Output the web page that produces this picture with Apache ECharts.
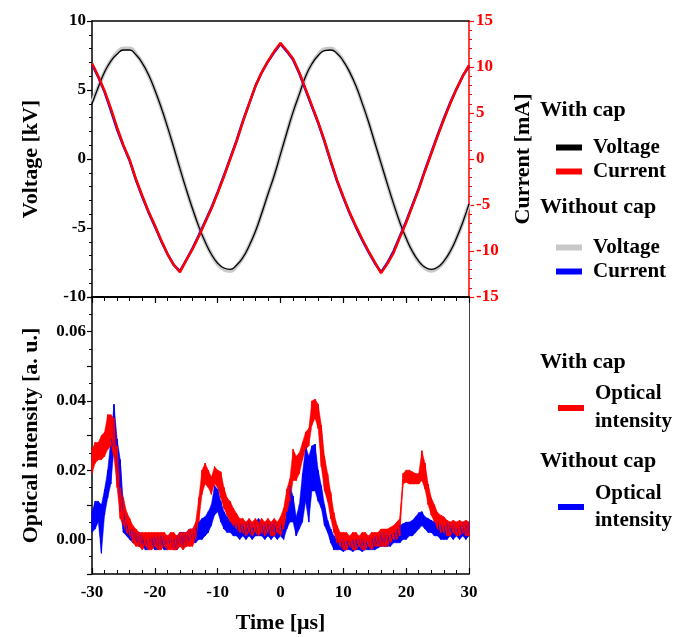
<!DOCTYPE html>
<html>
<head>
<meta charset="utf-8">
<script src="https://cdn.jsdelivr.net/npm/echarts@6/dist/echarts.min.js"></script>
<style>
  html, body { margin: 0; padding: 0; background: #fff; }
  #main { width: 675px; height: 637px; }
</style>
</head>
<body>
<div id="main"></div>
<script>
// time axis of the waveforms (us), one sample per microsecond
var timeWave = [];
for (var t = -30; t <= 30; t++) timeWave.push(t);

// voltage [kV]
var voltageCap = [
  4.0, 5.2, 6.3, 7.1, 7.6, 7.9, 7.9, 7.55, 6.95, 6.1,
  5.0, 3.75, 2.35, 0.85, -0.7, -2.2, -3.6, -4.9, -6.0, -6.9,
  -7.55, -7.9, -8.0, -7.7, -7.15, -6.3, -5.25, -3.95, -2.55, -1.2,
  0.35, 1.9, 3.4, 4.7, 6.0, 6.9, 7.5, 7.85, 7.9, 7.65,
  7.1, 6.3, 5.3, 4.05, 2.7, 1.2, -0.3, -1.8, -3.25, -4.6,
  -5.75, -6.7, -7.4, -7.85, -8.0, -7.85, -7.4, -6.7, -5.75, -4.6,
  -3.25
];
var voltageNoCap = [
  4.1, 5.2, 6.3, 7.1, 7.7, 8.0, 8.0, 7.6, 6.95, 6.1,
  5.0, 3.75, 2.35, 0.85, -0.7, -2.2, -3.6, -4.9, -6.0, -6.9,
  -7.6, -8.0, -8.1, -7.75, -7.15, -6.3, -5.25, -3.95, -2.55, -1.2,
  0.35, 1.9, 3.4, 4.7, 6.0, 6.9, 7.55, 7.95, 8.0, 7.7,
  7.1, 6.3, 5.3, 4.05, 2.7, 1.2, -0.3, -1.8, -3.25, -4.6,
  -5.75, -6.7, -7.45, -7.9, -8.1, -7.9, -7.45, -6.7, -5.75, -4.6,
  -3.3
];

// current [mA]
var currentCap = [
  10.4, 9.0, 7.4, 5.5, 3.4, 1.5, -0.1, -2.2, -4.0, -5.7,
  -7.2, -8.8, -10.3, -11.5, -12.3, -11.0, -9.8, -8.4, -6.9, -5.4,
  -3.7, -1.9, 0.0, 1.9, 4.0, 6.0, 7.9, 9.4, 10.6, 11.7,
  12.6, 11.8, 10.9, 9.4, 7.6, 5.8, 4.0, 2.0, -0.2, -2.3,
  -4.1, -5.8, -7.3, -8.7, -10.0, -11.2, -12.4, -11.4, -10.2, -8.5,
  -6.9, -5.1, -3.3, -1.3, 0.6, 2.5, 4.3, 6.0, 7.6, 9.0,
  10.2
];
var currentNoCap = [
  10.3, 8.9, 7.3, 5.3, 3.2, 1.4, -0.2, -2.3, -4.1, -5.8,
  -7.3, -8.9, -10.3, -11.5, -12.2, -11.0, -9.7, -8.3, -6.8, -5.3,
  -3.6, -1.8, 0.1, 2.0, 4.1, 6.0, 7.9, 9.4, 10.6, 11.6,
  12.5, 11.7, 10.8, 9.3, 7.5, 5.7, 3.9, 1.9, -0.3, -2.4,
  -4.2, -5.9, -7.4, -8.8, -10.1, -11.3, -12.3, -11.3, -10.0, -8.4,
  -6.8, -5.0, -3.2, -1.2, 0.7, 2.6, 4.4, 6.1, 7.6, 9.0,
  10.1
];

// optical intensity: time axis (us), 0.5 us steps
var timeOpt = [];
for (var k = 0; k <= 120; k++) timeOpt.push(-30 + k * 0.5);

// lower / upper edge of the noisy trace [a. u.]
var opticalCapLo = [
  0.019, 0.022, 0.023, 0.023, 0.024, 0.026, 0.027, 0.024, 0.015, 0.006,
  0.004, 0.002, 0.001, -0.001, -0.002, -0.002, -0.003, -0.002, -0.003, -0.003,
  -0.002, -0.003, -0.003, -0.002, -0.003, -0.003, -0.003, -0.003, -0.002, -0.003,
  -0.002, -0.002, -0.002, 0.000, 0.005, 0.013, 0.016, 0.015, 0.013, 0.016,
  0.015, 0.012, 0.009, 0.007, 0.005, 0.004, 0.003, 0.002, 0.002, 0.001,
  0.002, 0.001, 0.002, 0.001, 0.002, 0.001, 0.002, 0.001, 0.001, 0.002,
  0.001, 0.003, 0.008, 0.011, 0.017, 0.017, 0.019, 0.023, 0.026, 0.027,
  0.033, 0.035, 0.032, 0.021, 0.014, 0.011, 0.006, 0.002, -0.001, -0.002,
  -0.003, -0.003, -0.002, -0.003, -0.003, -0.002, -0.003, -0.003, -0.002, -0.003,
  -0.002, -0.002, -0.002, -0.002, -0.002, -0.001, 0.000, 0.000, 0.001, 0.016,
  0.0165, 0.016, 0.016, 0.016, 0.016, 0.017, 0.0145, 0.010, 0.007, 0.005,
  0.003, 0.002, 0.002, 0.001, 0.001, 0.002, 0.001, 0.001, 0.002, 0.001,
  0.001
];
var opticalCapHi = [
  0.026, 0.028, 0.028, 0.030, 0.031, 0.036, 0.036, 0.035, 0.027, 0.015,
  0.012, 0.008, 0.006, 0.004, 0.003, 0.002, 0.002, 0.002, 0.002, 0.002,
  0.002, 0.002, 0.002, 0.002, 0.001, 0.002, 0.002, 0.001, 0.002, 0.002,
  0.002, 0.003, 0.003, 0.005, 0.012, 0.020, 0.022, 0.020, 0.018, 0.021,
  0.020, 0.0195, 0.015, 0.012, 0.011, 0.009, 0.0075, 0.006, 0.006, 0.005,
  0.006, 0.005, 0.006, 0.005, 0.006, 0.005, 0.006, 0.005, 0.006, 0.005,
  0.0065, 0.009, 0.0145, 0.0175, 0.026, 0.024, 0.025, 0.028, 0.031, 0.032,
  0.040, 0.0405, 0.039, 0.033, 0.024, 0.019, 0.0135, 0.0077, 0.004, 0.002,
  0.002, 0.002, 0.001, 0.002, 0.002, 0.001, 0.002, 0.002, 0.001, 0.002,
  0.002, 0.002, 0.003, 0.003, 0.003, 0.0035, 0.004, 0.005, 0.006, 0.019,
  0.020, 0.020, 0.0195, 0.019, 0.019, 0.0256, 0.022, 0.016, 0.012, 0.010,
  0.0077, 0.007, 0.0065, 0.0055, 0.005, 0.0055, 0.005, 0.0055, 0.005, 0.0055,
  0.005
];
var opticalNoCapLo = [
  0.002, 0.003, 0.005, -0.004, 0.007, 0.012, 0.016, 0.026, 0.017, 0.008,
  0.002, 0.001, 0.000, -0.001, -0.001, -0.002, -0.002, -0.003, -0.003, -0.002,
  -0.003, -0.003, -0.002, -0.003, -0.003, -0.002, -0.003, -0.003, -0.002, -0.002,
  -0.002, -0.001, -0.001, -0.001, 0.000, 0.000, 0.001, 0.002, 0.004, 0.007,
  0.008, 0.005, 0.003, 0.002, 0.002, 0.001, 0.001, 0.000, 0.001, 0.000,
  0.001, 0.000, 0.001, 0.001, 0.001, 0.000, 0.001, 0.000, 0.001, 0.000,
  0.001, 0.000, 0.003, 0.005, 0.005, 0.001, 0.003, 0.005, 0.011, 0.005,
  0.014, 0.014, 0.011, 0.009, 0.004, 0.002, -0.001, -0.003, -0.003, -0.003,
  -0.0035, -0.003, -0.003, -0.0035, -0.003, -0.003, -0.0035, -0.003, -0.003, -0.003,
  -0.003, -0.0025, -0.002, -0.002, -0.002, -0.002, -0.001, -0.001, -0.001, 0.000,
  0.000, 0.001, 0.001, 0.002, 0.003, 0.004, 0.003, 0.002, 0.002, 0.001,
  0.001, 0.000, 0.000, 0.000, 0.001, 0.000, 0.001, 0.000, 0.001, 0.000,
  0.001
];
var opticalNoCapHi = [
  0.008, 0.011, 0.011, 0.010, 0.0145, 0.020, 0.029, 0.039, 0.029, 0.023,
  0.010, 0.005, 0.003, 0.003, 0.002, 0.002, 0.001, 0.001, 0.001, 0.001,
  0.001, 0.001, 0.001, 0.001, 0.001, 0.001, 0.001, 0.001, 0.002, 0.002,
  0.002, 0.003, 0.003, 0.004, 0.005, 0.006, 0.0065, 0.008, 0.010, 0.0155,
  0.0145, 0.011, 0.008, 0.0065, 0.0055, 0.005, 0.005, 0.005, 0.0045, 0.005,
  0.005, 0.0045, 0.005, 0.006, 0.005, 0.005, 0.0045, 0.005, 0.005, 0.0045,
  0.005, 0.004, 0.008, 0.0155, 0.0125, 0.0065, 0.010, 0.019, 0.027, 0.024,
  0.027, 0.0275, 0.020, 0.0155, 0.010, 0.0055, 0.003, 0.001, 0.000, 0.000,
  0.000, 0.000, 0.000, 0.000, 0.000, 0.000, 0.000, 0.000, 0.001, 0.001,
  0.001, 0.001, 0.002, 0.002, 0.002, 0.002, 0.0025, 0.003, 0.004, 0.0045,
  0.005, 0.005, 0.0055, 0.0065, 0.0077, 0.008, 0.0065, 0.006, 0.0055, 0.005,
  0.005, 0.0045, 0.004, 0.005, 0.005, 0.0045, 0.005, 0.0045, 0.005, 0.005,
  0.005
];

var FONT = 'Liberation Serif';

function pairs(xs, ys) {
  var out = [];
  for (var i = 0; i < xs.length; i++) out.push([xs[i], ys[i]]);
  return out;
}
// jagged edge of the noisy trace: lower edge -> upper edge at every sample
function saw(xs, lo, hi) {
  var out = [];
  for (var i = 0; i < xs.length; i++) {
    out.push([xs[i], lo[i]]);
    out.push([xs[i], hi[i]]);
  }
  return out;
}
// ribbon pieces between two neighbouring samples: [t0, lo0, hi0, t1, lo1, hi1]
function ribbon(xs, lo, hi) {
  var out = [];
  for (var i = 0; i < xs.length - 1; i++) {
    out.push([xs[i], lo[i], hi[i], xs[i + 1], lo[i + 1], hi[i + 1]]);
  }
  return out;
}
function opticalSeries(name, color, lo, hi) {
  return [
    {
      name: name + ' ribbon', type: 'custom', xAxisIndex: 2, yAxisIndex: 2,
      data: ribbon(timeOpt, lo, hi), silent: true,
      encode: { x: [0, 3], y: [1, 2, 4, 5] },
      renderItem: function (params, api) {
        var pts = [
          api.coord([api.value(0), api.value(1)]),
          api.coord([api.value(0), api.value(2)]),
          api.coord([api.value(3), api.value(5)]),
          api.coord([api.value(3), api.value(4)])
        ];
        return { type: 'polygon', shape: { points: pts }, style: { fill: color, stroke: color, lineWidth: 0.5 } };
      }
    },
    {
      name: name, type: 'line', xAxisIndex: 2, yAxisIndex: 2,
      data: saw(timeOpt, lo, hi), showSymbol: false, silent: true,
      color: color, lineStyle: { width: 1 }
    }
  ];
}
function legendName(name) {
  return name.replace(/ \(with(out)? cap\)/, '').replace('Optical intensity', 'Optical\nintensity');
}

var tickLabel = { color: '#000', fontFamily: FONT, fontWeight: 'bold', fontSize: 17 };
var axisName = { color: '#000', fontFamily: FONT, fontWeight: 'bold', fontSize: 22 };
function blackLine(w) {
  return { show: true, onZero: false, lineStyle: { color: '#000', width: w } };
}

var series = [
  {
    name: 'Voltage (without cap)', type: 'line', xAxisIndex: 0, yAxisIndex: 0,
    data: pairs(timeWave, voltageNoCap), smooth: true, showSymbol: false, silent: true,
    color: '#c8c8c8', lineStyle: { width: 4 }
  },
  {
    name: 'Voltage (with cap)', type: 'line', xAxisIndex: 0, yAxisIndex: 0,
    data: pairs(timeWave, voltageCap), smooth: true, showSymbol: false, silent: true,
    color: '#000', lineStyle: { width: 1.3 }
  },
  {
    name: 'Current (without cap)', type: 'line', xAxisIndex: 0, yAxisIndex: 1,
    data: pairs(timeWave, currentNoCap), showSymbol: false, silent: true,
    color: '#0000ff', lineStyle: { width: 2.5 }
  },
  {
    name: 'Current (with cap)', type: 'line', xAxisIndex: 0, yAxisIndex: 1,
    data: pairs(timeWave, currentCap), showSymbol: false, silent: true,
    color: '#ff0000', lineStyle: { width: 2.5 }
  }
].concat(
  opticalSeries('Optical intensity (without cap)', '#0000ff', opticalNoCapLo, opticalNoCapHi),
  opticalSeries('Optical intensity (with cap)', '#ff0000', opticalCapLo, opticalCapHi)
);

var myChart = echarts.init(document.getElementById('main'));
myChart.setOption({
  animation: false,
  backgroundColor: '#fff',
  grid: [
    { left: 92, top: 21, width: 377, height: 276, outerBoundsMode: 'none' },
    { left: 92, top: 297, width: 377, height: 277, outerBoundsMode: 'none' }
  ],
  xAxis: [
    {
      gridIndex: 0, type: 'value', min: -30, max: 30, interval: 10, position: 'bottom',
      axisLine: blackLine(2),
      axisTick: { show: true, inside: false, length: 6, lineStyle: { color: '#000', width: 1.2 } },
      minorTick: { show: true, splitNumber: 5, length: 4, lineStyle: { color: '#000', width: 1 } },
      axisLabel: { show: false }, splitLine: { show: false }
    },
    {
      gridIndex: 0, type: 'value', min: -30, max: 30, position: 'top',
      axisLine: blackLine(1.5),
      axisTick: { show: false }, axisLabel: { show: false }, splitLine: { show: false }
    },
    {
      gridIndex: 1, type: 'value', min: -30, max: 30, interval: 10, position: 'bottom',
      axisLine: blackLine(1.5),
      axisTick: { show: true, inside: true, length: 6, lineStyle: { color: '#000', width: 1.2 } },
      minorTick: { show: true, splitNumber: 5, length: 4, lineStyle: { color: '#000', width: 1 } },
      axisLabel: Object.assign({ margin: 10 }, tickLabel),
      splitLine: { show: false },
      name: 'Time [μs]', nameLocation: 'middle', nameGap: 38, nameTextStyle: axisName
    }
  ],
  yAxis: [
    {
      gridIndex: 0, type: 'value', min: -10, max: 10, interval: 5, position: 'left',
      axisLine: blackLine(1.5),
      axisTick: { show: true, inside: false, length: 5, lineStyle: { color: '#000', width: 1.2 } },
      minorTick: { show: true, splitNumber: 5, length: 3, lineStyle: { color: '#000', width: 1 } },
      axisLabel: Object.assign({ margin: 6 }, tickLabel),
      splitLine: { show: false },
      name: 'Voltage [kV]', nameLocation: 'middle', nameGap: 50, nameTextStyle: axisName
    },
    {
      gridIndex: 0, type: 'value', min: -15, max: 15, interval: 5, position: 'right',
      axisLine: { show: true, onZero: false, lineStyle: { color: '#ff0000', width: 1.5 } },
      axisTick: { show: true, inside: false, length: 5, lineStyle: { color: '#ff0000', width: 1.2 } },
      minorTick: { show: true, splitNumber: 5, length: 3, lineStyle: { color: '#ff0000', width: 1 } },
      axisLabel: { margin: 7, color: '#ff0000', fontFamily: FONT, fontWeight: 'bold', fontSize: 17 },
      splitLine: { show: false },
      name: 'Current [mA]', nameLocation: 'middle', nameGap: 43, nameTextStyle: axisName
    },
    {
      gridIndex: 1, type: 'value', min: -0.01, max: 0.07, interval: 0.01, position: 'left',
      axisLine: blackLine(1.5),
      axisTick: { show: true, inside: false, length: 5, lineStyle: { color: '#000', width: 1.2 } },
      minorTick: { show: true, splitNumber: 2, length: 3, lineStyle: { color: '#000', width: 1 } },
      axisLabel: Object.assign({
        margin: 6,
        formatter: function (v) {
          var n = Math.round(v * 100);
          return n % 2 === 0 ? (n / 100).toFixed(2) : '';
        }
      }, tickLabel),
      splitLine: { show: false },
      name: 'Optical intensity [a. u.]', nameLocation: 'middle', nameGap: 50, nameTextStyle: axisName
    },
    {
      gridIndex: 1, type: 'value', min: -0.01, max: 0.07, position: 'right',
      axisLine: { show: true, onZero: false, lineStyle: { color: '#444', width: 1 } },
      axisTick: { show: false }, axisLabel: { show: false }, splitLine: { show: false }
    }
  ],
  legend: [
    {
      data: ['Voltage (with cap)', 'Current (with cap)'],
      left: 551, top: 132, orient: 'vertical', icon: 'rect',
      itemWidth: 26, itemHeight: 6, itemGap: 3, selectedMode: false, formatter: legendName,
      textStyle: { color: '#000', fontFamily: FONT, fontWeight: 'bold', fontSize: 21, lineHeight: 20, padding: [0, 0, 0, 6] }
    },
    {
      data: ['Voltage (without cap)', 'Current (without cap)'],
      left: 551, top: 232, orient: 'vertical', icon: 'rect',
      itemWidth: 26, itemHeight: 6, itemGap: 3, selectedMode: false, formatter: legendName,
      textStyle: { color: '#000', fontFamily: FONT, fontWeight: 'bold', fontSize: 21, lineHeight: 20, padding: [0, 0, 0, 6] }
    },
    {
      data: ['Optical intensity (with cap)'],
      left: 553, top: 375, orient: 'vertical', icon: 'rect',
      itemWidth: 26, itemHeight: 6, selectedMode: false, formatter: legendName,
      textStyle: { color: '#000', fontFamily: FONT, fontWeight: 'bold', fontSize: 21, lineHeight: 28, padding: [0, 0, 0, 6] }
    },
    {
      data: ['Optical intensity (without cap)'],
      left: 553, top: 475, orient: 'vertical', icon: 'rect',
      itemWidth: 26, itemHeight: 6, selectedMode: false, formatter: legendName,
      textStyle: { color: '#000', fontFamily: FONT, fontWeight: 'bold', fontSize: 21, lineHeight: 27, padding: [0, 0, 0, 6] }
    }
  ],
  graphic: [
    { type: 'text', left: 540, top: 99, style: { text: 'With cap', fill: '#000', font: 'bold 22px "Liberation Serif"' } },
    { type: 'text', left: 540, top: 196, style: { text: 'Without cap', fill: '#000', font: 'bold 22px "Liberation Serif"' } },
    { type: 'text', left: 540, top: 351, style: { text: 'With cap', fill: '#000', font: 'bold 22px "Liberation Serif"' } },
    { type: 'text', left: 540, top: 450, style: { text: 'Without cap', fill: '#000', font: 'bold 22px "Liberation Serif"' } }
  ],
  series: series
});
</script>
</body>
</html>
